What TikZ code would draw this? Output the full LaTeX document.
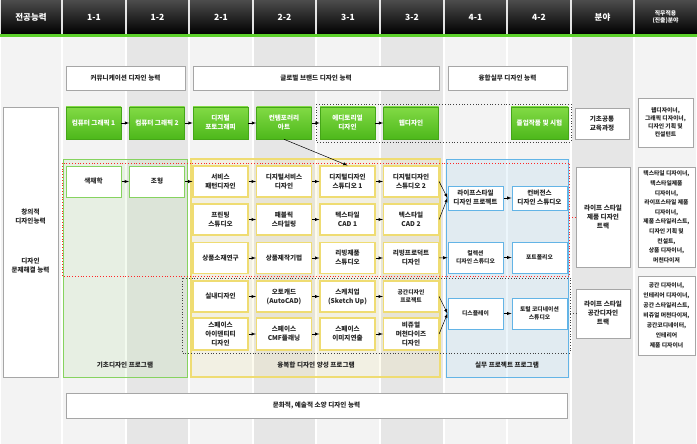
\documentclass[tikz,border=0pt]{standalone}
\usepackage{fontspec}
\newfontfamily\kr{Noto Sans CJK KR}
\definecolor{hdgreen}{HTML}{5CD02A}
\definecolor{colA}{HTML}{F3F3F3}
\definecolor{colB}{HTML}{E6E6E6}
\definecolor{frgreen}{HTML}{86D35F}
\definecolor{fryellow}{HTML}{EFDC72}
\definecolor{frblue}{HTML}{63B4E6}
\definecolor{gtop}{HTML}{82DA45}
\definecolor{gbot}{HTML}{4DB81B}
\tikzset{
    txt/.style={font=\kr\bfseries\fontsize{6.6}{9}\selectfont, text=black!85, align=center, inner sep=1pt},
    small/.style={font=\kr\bfseries\fontsize{5.8}{7.5}\selectfont},
    hd/.style={font=\kr\bfseries\fontsize{8.5}{9}\selectfont, text=white, align=center},
    wbox/.style={txt, draw=black!35, line width=0.6pt, fill=white},
    cbox/.style={txt, draw=fryellow, line width=1.2pt, fill=white, minimum width=55pt, minimum height=31pt},
    kbox/.style={txt, draw=frgreen, line width=1pt, fill=white, minimum width=55pt, minimum height=31pt},
    bbox/.style={txt, draw=frblue, line width=1pt, fill=white, minimum width=55pt, minimum height=31pt},
    gbox/.style={txt, draw=gbot!90!black, line width=0.6pt, top color=gtop, bottom color=gbot,
        text=white, minimum width=55pt, minimum height=32pt},
    arr/.style={-latex, line width=0.5pt}
}
\begin{document}
\begin{tikzpicture}[x=1pt, y=-1pt]
    \useasboundingbox (0,0) rectangle (697,444);
    \foreach \xa/\xb/\c in {0/62/colA, 62/126/colA, 126/189/colB, 189/253/colA, 253/316/colB,
        316/380/colA, 380/444/colB, 444/507/colA, 507/571/colA, 571/634/colB, 634/697/colA}
        \fill[\c] (\xa+1,37) rectangle (\xb-1,444);
    \foreach \xa/\xb/\lab in {0/62/전공능력, 62/126/1-1, 126/189/1-2, 189/253/2-1, 253/316/2-2,
        316/380/3-1, 380/444/3-2, 444/507/4-1, 507/571/4-2, 571/634/분야}
    {
        \shade[top color=black!70, bottom color=black] (\xa+0.8,0) rectangle (\xb-0.8,34);
        \node[hd] (h\xa) at ({(\xa+\xb)/2},17) {\lab};
    }
    \shade[top color=black!70, bottom color=black] (634.8,0) rectangle (697,34);
    \node[hd, font=\kr\bfseries\fontsize{5.8}{7}\selectfont] (h634) at (665.5,17) {직무적용\\(진출)분야};
    \fill[hdgreen] (0,34) rectangle (697,37);

    \draw[frgreen, line width=1pt, fill=frgreen, fill opacity=0.1] (63,159) rectangle (187,377);
    \draw[fryellow, line width=1.2pt, fill=fryellow, fill opacity=0.12] (191,159) rectangle (440,377);
    \draw[frblue, line width=1pt, fill=frblue, fill opacity=0.12] (446,159) rectangle (568,377);
    \node[txt] (lbA) at (125,365) {기초디자인 프로그램};
    \node[txt] (lbB) at (316,365) {융복합 디자인 양성 프로그램};
    \node[txt] (lbC) at (507,365) {실무 프로젝트 프로그램};
    \draw[red!85, dotted, line width=0.8pt] (62,163) rectangle (569,276);
    \draw[black!75, dotted, line width=0.8pt] (182,278) rectangle (570,353);
    \draw[black!75, dotted, line width=0.8pt] (316,104) rectangle (571,142);

    \node[wbox, minimum width=119pt, minimum height=24pt] (comp1) at (125.5,78) {커뮤니케이션 디자인 능력};
    \node[wbox, minimum width=246pt, minimum height=24pt] (comp2) at (316,78) {글로벌 브랜드 디자인 능력};
    \node[wbox, minimum width=119pt, minimum height=24pt] (comp3) at (507.5,78) {융합실무 디자인 능력};
    \node[wbox, minimum width=501pt, minimum height=25pt] (comp4) at (316.5,405.5) {문화적, 예술적 소양 디자인 능력};
    \node[wbox, minimum width=55pt, minimum height=270pt] (lbox) at (30.5,242) {};
    \node[txt] (abil1) at (30.5,217) {창의적\\디자인능력};
    \node[txt] (abil2) at (30.5,266) {디자인\\문제해결 능력};

    \node[gbox] (g1) at (93.5,123) {컴퓨터 그래픽 1};
    \node[gbox] (g2) at (157,123) {컴퓨터 그래픽 2};
    \node[gbox] (g3) at (220.5,123) {디지털\\포토그래피};
    \node[gbox] (g4) at (284,123) {컨템포러리\\아트};
    \node[gbox] (g5) at (347.5,123) {에디토리얼\\디자인};
    \node[gbox] (g6) at (411,123) {웹디자인};
    \node[gbox, minimum width=57pt] (g7) at (539.5,123) {졸업작품 및 시험};

    \node[kbox] (col) at (93.5,181.5) {색채학};
    \node[kbox] (form) at (157,181.5) {조형};
    \node[cbox] (spd) at (220.5,181.5) {서비스\\패턴디자인};
    \node[cbox] (dsd) at (284,181.5) {디지털서비스\\디자인};
    \node[cbox] (dds1) at (347.5,181.5) {디지털디자인\\스튜디오 1};
    \node[cbox] (dds2) at (411,181.5) {디지털디자인\\스튜디오 2};
    \node[cbox] (prt) at (220.5,219.5) {프린팅\\스튜디오};
    \node[cbox] (fab) at (284,219.5) {패블릭\\스타일링};
    \node[cbox] (tex1) at (347.5,219.5) {텍스타일\\CAD 1};
    \node[cbox] (tex2) at (411,219.5) {텍스타일\\CAD 2};
    \node[cbox] (mat) at (220.5,258) {상품소재연구};
    \node[cbox] (mak) at (284,258) {상품제작기법};
    \node[cbox] (liv1) at (347.5,258) {리빙제품\\스튜디오};
    \node[cbox] (liv2) at (411,258) {리빙프로덕트\\디자인};
    \node[cbox] (int) at (220.5,296.5) {실내디자인};
    \node[cbox] (cad) at (284,296.5) {오토캐드\\(AutoCAD)};
    \node[cbox] (skt) at (347.5,296.5) {스케치업\\(Sketch Up)};
    \node[cbox, small] (spp) at (411,296.5) {공간디자인\\프로젝트};
    \node[cbox, minimum height=32pt] (sid) at (220.5,334) {스페이스\\아이덴티티\\디자인};
    \node[cbox, minimum height=32pt] (cmf) at (284,334) {스페이스\\CMF플래닝};
    \node[cbox, minimum height=32pt] (img) at (347.5,334) {스페이스\\이미지연출};
    \node[cbox, minimum height=32pt] (vmd) at (411,334) {비쥬얼\\머천다이즈\\디자인};

    \node[bbox, minimum height=24pt] (lsp) at (475.5,198) {라이프스타일\\디자인 프로젝트};
    \node[bbox, minimum height=24pt] (cvs) at (539.5,198) {컨버전스\\디자인 스튜디오};
    \node[bbox, small] (cls) at (475.5,257.5) {컬렉션\\디자인 스튜디오};
    \node[bbox, small] (pfl) at (539.5,257.5) {포트폴리오};
    \node[bbox, small] (dsp) at (475.5,313.5) {디스플레이};
    \node[bbox, small] (tcs) at (539.5,313.5) {토털 코디네이션\\스튜디오};

    \node[wbox, minimum width=54pt, minimum height=31pt] (f1) at (602,123.5) {기초공통\\교육과정};
    \node[wbox, minimum width=54pt, minimum height=100pt] (f2) at (603,217) {라이프 스타일\\제품 디자인\\트랙};
    \node[wbox, minimum width=54pt, minimum height=49pt] (f3) at (603,313.5) {라이프 스타일\\공간디자인\\트랙};
    \node[wbox, font=\kr\bfseries\fontsize{5.8}{8}\selectfont, minimum width=55pt, minimum height=49pt] (j1) at (665.5,122.5)
        {웹디자이너,\\그래픽 디자이너,\\디자인 기획 및\\컨설턴트};
    \node[wbox, font=\kr\bfseries\fontsize{5.8}{9.6}\selectfont, minimum width=57pt, minimum height=100pt] (j2) at (666.5,217)
        {텍스타일 디자이너,\\텍스타일제품\\디자이너,\\라이프스타일 제품\\디자이너,\\제품 스타일리스트,\\디자인 기획 및\\컨설트,\\상품 디자이너,\\머천다이저};
    \node[wbox, font=\kr\bfseries\fontsize{5.8}{10}\selectfont, minimum width=57pt, minimum height=79pt] (j3) at (666.5,315.5)
        {공간 디자이너,\\인테리어 디자이너,\\공간 스타일리스트,\\비쥬얼 머천다이저,\\공간코디네이터,\\인테리어\\제품 디자이너};

    \draw[arr] (g1) -- (g2);
    \draw[arr] (g2) -- (g3);
    \draw[arr] (g3) -- (g4);
    \draw[arr] (g4) -- (g5);
    \draw[arr] (g5) -- (g6);
    \draw[arr] (g4.south) -- (dds1.north);
    \draw[arr] (col) -- (form);
    \draw[arr] (form) -- (spd);
    \draw[arr] (spd) -- (dsd);
    \draw[arr] (dsd) -- (dds1);
    \draw[arr] (dds1) -- (dds2);
    \draw[arr] (prt) -- (fab);
    \draw[arr] (fab) -- (tex1);
    \draw[arr] (tex1) -- (tex2);
    \draw[arr] (mat) -- (mak);
    \draw[arr] (mak) -- (liv1);
    \draw[arr] (liv1) -- (liv2);
    \draw[arr] (int) -- (cad);
    \draw[arr] (cad) -- (skt);
    \draw[arr] (skt) -- (spp);
    \draw[arr] (sid) -- (cmf);
    \draw[arr] (cmf) -- (img);
    \draw[arr] (img) -- (vmd);
    \draw[arr] (dds2.east) -- (lsp.west);
    \draw[arr] (tex2.east) -- (lsp.west);
    \draw[arr] (liv2) -- (cls);
    \draw[arr] (spp.east) -- (dsp.west);
    \draw[arr] (vmd.east) -- (dsp.west);
    \draw[arr] (lsp) -- (cvs);
    \draw[arr] (cls) -- (pfl);
    \draw[arr] (dsp) -- (tcs);
    \coordinate (rd) at (569,217);
    \coordinate (bd) at (570,313.5);
    \draw[red!85, dotted, line width=0.8pt] (rd) -- (f2.west);
    \draw[black!75, dotted, line width=0.8pt] (bd) -- (f3.west);
\end{tikzpicture}
\end{document}
